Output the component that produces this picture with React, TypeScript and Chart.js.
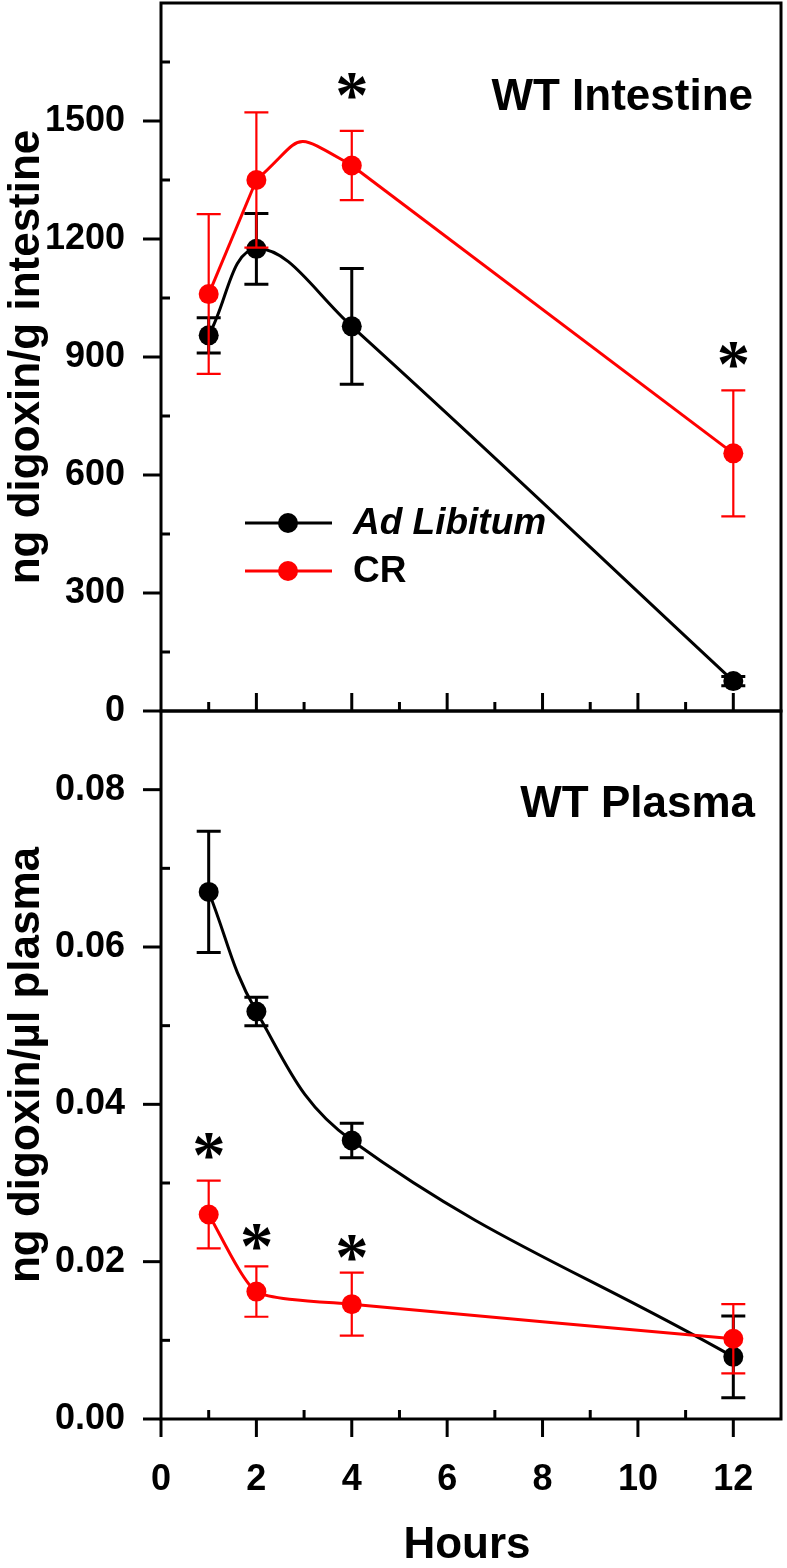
import React, { useEffect, useRef } from "react";
import { Chart, registerables } from "chart.js";

Chart.register(...registerables);

// ---------- data ----------
const hours = [1, 2, 4, 12];

const intestineAdLib = [955, 1175, 978, 76];
const intestineAdLibErr = [45, 90, 147, 12];
const intestineCR = [1060, 1350, 1387, 655];
const intestineCRErr = [203, 172, 88, 160];

const plasmaAdLib = [0.067, 0.0518, 0.0354, 0.0079];
const plasmaAdLibErr = [0.0077, 0.0018, 0.0022, 0.0052];
const plasmaCR = [0.026, 0.0162, 0.0146, 0.0102];
const plasmaCRErr = [0.0043, 0.0032, 0.004, 0.0044];

// significance markers (*): hour and level at which they sit
const intestineStarHours = [4, 12];
const intestineStarLevels = [1588, 906];
const plasmaStarHours = [1, 2, 4];
const plasmaStarLevels = [0.0347, 0.0231, 0.0218];

const xMajorTicks = [0, 2, 4, 6, 8, 10, 12];
const xMinorTicks = [1, 3, 5, 7, 9, 11];
const intestineMajorTicks = [0, 300, 600, 900, 1200, 1500];
const intestineMinorTicks = [150, 450, 750, 1050, 1350, 1650];
const plasmaMajorTicks = [0, 0.02, 0.04, 0.06, 0.08];
const plasmaMinorTicks = [0.01, 0.03, 0.05, 0.07];

const seriesLabels = ["Ad Libitum", "CR"];
const panelTitles = ["WT Intestine", "WT Plasma"];
const yTitles = ["ng digoxin/g intestine", "ng digoxin/\u00b5l plasma"];
const xTitle = "Hours";

// ---------- style ----------
const SANS = '"Liberation Sans", Arial, sans-serif';
const BLACK = "#000000";
const RED = "#ff0000";
const HIDDEN = "rgba(0,0,0,0)";

const pts = (ys: number[]) => hours.map((h, i) => ({ x: h, y: ys[i] }));

const framePlugin = {
  id: "frame",
  beforeDatasetsDraw(chart: any) {
    const { ctx, chartArea, scales } = chart;
    const x = scales.x;
    const yI = scales.yI;
    const yP = scales.yP;
    const L = chartArea.left;
    const R = chartArea.right;
    const MAJ = 18;
    const MIN = 9;
    ctx.save();
    ctx.strokeStyle = BLACK;
    ctx.lineWidth = 3;
    const line = (x1: number, y1: number, x2: number, y2: number) => {
      ctx.beginPath();
      ctx.moveTo(x1, y1);
      ctx.lineTo(x2, y2);
      ctx.stroke();
    };
    [yI, yP].forEach((s: any) => ctx.strokeRect(L, s.top, R - L, s.bottom - s.top));
    intestineMajorTicks.forEach((v) => {
      const p = yI.getPixelForValue(v);
      line(L - MAJ, p, L, p);
    });
    intestineMinorTicks.forEach((v) => {
      const p = yI.getPixelForValue(v);
      line(L, p, L + MIN, p);
    });
    plasmaMajorTicks.forEach((v) => {
      const p = yP.getPixelForValue(v);
      line(L - MAJ, p, L, p);
    });
    plasmaMinorTicks.forEach((v) => {
      const p = yP.getPixelForValue(v);
      line(L, p, L + MIN, p);
    });
    xMajorTicks.forEach((v) => {
      const p = x.getPixelForValue(v);
      if (v > 0) line(p, yI.bottom, p, yI.bottom - MAJ);
      line(p, yP.bottom, p, yP.bottom + MAJ);
    });
    xMinorTicks.forEach((v) => {
      const p = x.getPixelForValue(v);
      line(p, yI.bottom, p, yI.bottom - MIN);
      line(p, yP.bottom, p, yP.bottom - MIN);
    });

    // tick labels
    ctx.fillStyle = BLACK;
    ctx.font = `bold 36px ${SANS}`;
    ctx.textAlign = "right";
    ctx.textBaseline = "middle";
    intestineMajorTicks.forEach((v) => {
      ctx.fillText(String(v), L - 36, yI.getPixelForValue(v));
    });
    plasmaMajorTicks.forEach((v) => {
      ctx.fillText(v.toFixed(2), L - 36, yP.getPixelForValue(v));
    });
    ctx.textAlign = "center";
    xMajorTicks.forEach((v) => {
      ctx.fillText(String(v), x.getPixelForValue(v), yP.bottom + 61);
    });

    // axis titles
    ctx.font = `bold 44px ${SANS}`;
    ctx.textAlign = "center";
    ctx.textBaseline = "middle";
    ctx.fillText(xTitle, (L + R) / 2 - 4, yP.bottom + 127);
    [yI, yP].forEach((s: any, i: number) => {
      ctx.save();
      ctx.translate(27, (s.top + s.bottom) / 2);
      ctx.rotate(-Math.PI / 2);
      ctx.fillText(yTitles[i], 0, 0);
      ctx.restore();
    });
    ctx.restore();
  },
};

const errorBarPlugin = {
  id: "errorBars",
  beforeDatasetDraw(chart: any, args: any) {
    const ds = chart.data.datasets[args.index];
    if (!ds.errors) return;
    const yScale = chart.scales[ds.yAxisID];
    const ctx = chart.ctx;
    const CAP = 12;
    ctx.save();
    ctx.strokeStyle = ds.borderColor;
    ctx.lineWidth = ds.errorWidth;
    args.meta.data.forEach((pt: any, i: number) => {
      const v = ds.data[i].y;
      const e = ds.errors[i];
      const yt = yScale.getPixelForValue(v + e);
      const yb = yScale.getPixelForValue(v - e);
      ctx.beginPath();
      ctx.moveTo(pt.x, yt);
      ctx.lineTo(pt.x, yb);
      ctx.moveTo(pt.x - CAP, yt);
      ctx.lineTo(pt.x + CAP, yt);
      ctx.moveTo(pt.x - CAP, yb);
      ctx.lineTo(pt.x + CAP, yb);
      ctx.stroke();
    });
    ctx.restore();
  },
};

const annotationPlugin = {
  id: "annotations",
  afterDraw(chart: any) {
    const { ctx, chartArea, scales } = chart;
    const x = scales.x;
    const yI = scales.yI;
    const yP = scales.yP;
    ctx.save();
    // asterisks
    ctx.fillStyle = BLACK;
    ctx.font = 'bold 100px "Liberation Serif", serif';
    const m100 = ctx.measureText("*");
    const w100 = m100.actualBoundingBoxLeft + m100.actualBoundingBoxRight;
    const fs = (100 * 28) / w100;
    ctx.font = `bold ${fs}px "Liberation Serif", serif`;
    const m = ctx.measureText("*");
    const drawStar = (px: number, py: number) => {
      const bx = px - (m.actualBoundingBoxRight - m.actualBoundingBoxLeft) / 2;
      const by = py + (m.actualBoundingBoxAscent - m.actualBoundingBoxDescent) / 2;
      ctx.textAlign = "left";
      ctx.textBaseline = "alphabetic";
      ctx.fillText("*", bx, by);
    };
    intestineStarHours.forEach((h, i) =>
      drawStar(x.getPixelForValue(h), yI.getPixelForValue(intestineStarLevels[i]))
    );
    plasmaStarHours.forEach((h, i) =>
      drawStar(x.getPixelForValue(h), yP.getPixelForValue(plasmaStarLevels[i]))
    );

    // panel titles
    ctx.font = `bold 44px ${SANS}`;
    ctx.textAlign = "right";
    ctx.textBaseline = "alphabetic";
    ctx.fillText(panelTitles[0], chartArea.right - 28, yI.top + 107);
    ctx.fillText(panelTitles[1], chartArea.right - 26, yP.top + 106);

    // legend
    const L = chartArea.left;
    const rows = [
      { y: yI.top + 520, color: BLACK, label: seriesLabels[0], italic: true },
      { y: yI.top + 568, color: RED, label: seriesLabels[1], italic: false },
    ];
    rows.forEach((r) => {
      ctx.strokeStyle = r.color;
      ctx.fillStyle = r.color;
      ctx.lineWidth = 3;
      ctx.beginPath();
      ctx.moveTo(L + 84, r.y);
      ctx.lineTo(L + 171, r.y);
      ctx.stroke();
      ctx.beginPath();
      ctx.arc(L + 127, r.y, 10, 0, Math.PI * 2);
      ctx.fill();
      ctx.fillStyle = BLACK;
      ctx.font = `${r.italic ? "italic " : ""}bold 37px ${SANS}`;
      ctx.textAlign = "left";
      ctx.textBaseline = "middle";
      ctx.fillText(r.label, L + 192, r.y + 1);
    });
    ctx.restore();
  },
};

const lineStyle = (color: string) => ({
  borderColor: color,
  backgroundColor: color,
  borderWidth: 3,
  pointRadius: 10,
  pointBackgroundColor: color,
  pointBorderWidth: 0,
  pointHoverRadius: 10,
  fill: false,
});

const fixBox = (w: number | null, h: number | null) => (s: any) => {
  if (w !== null) s.width = w;
  if (h !== null) s.height = h;
  s.paddingTop = 0;
  s.paddingBottom = 0;
  s.paddingLeft = 0;
  s.paddingRight = 0;
};

const quietAxis = {
  grid: { display: false, drawTicks: false },
  border: { display: false },
  ticks: { display: false },
  title: { display: false },
};

export default function App() {
  const ref = useRef<HTMLCanvasElement>(null);

  useEffect(() => {
    document.body.style.margin = "0";
    const canvas = ref.current;
    if (!canvas) return;
    const chart = new Chart(canvas, {
      type: "line",
      data: {
        datasets: [
          {
            label: seriesLabels[1],
            data: pts(intestineCR),
            yAxisID: "yI",
            ...lineStyle(RED),
            tension: 0.8,
            errors: intestineCRErr,
            errorWidth: 2.2,
            order: 1,
            segment: {
              borderColor: (c: any) => (c.p0DataIndex === 1 ? undefined : HIDDEN),
            },
          } as any,
          {
            label: seriesLabels[1] + " (straight part)",
            data: pts(intestineCR),
            yAxisID: "yI",
            ...lineStyle(RED),
            pointRadius: 0,
            pointHoverRadius: 0,
            tension: 0,
            order: 2,
            segment: {
              borderColor: (c: any) => (c.p0DataIndex === 1 ? HIDDEN : undefined),
            },
          } as any,
          {
            label: seriesLabels[0],
            data: pts(intestineAdLib),
            yAxisID: "yI",
            ...lineStyle(BLACK),
            tension: 0.4,
            errors: intestineAdLibErr,
            errorWidth: 3,
            order: 3,
          } as any,
          {
            label: seriesLabels[1],
            data: pts(plasmaCR),
            yAxisID: "yP",
            ...lineStyle(RED),
            tension: 0.2,
            errors: plasmaCRErr,
            errorWidth: 2.2,
            order: 1,
          } as any,
          {
            label: seriesLabels[0],
            data: pts(plasmaAdLib),
            yAxisID: "yP",
            ...lineStyle(BLACK),
            tension: 0.4,
            errors: plasmaAdLibErr,
            errorWidth: 3,
            order: 3,
          } as any,
        ],
      },
      options: {
        responsive: false,
        animation: false,
        devicePixelRatio: 1,
        events: [],
        layout: { autoPadding: false, padding: { top: 3, right: 6, left: 0, bottom: 0 } },
        plugins: { legend: { display: false }, tooltip: { enabled: false } },
        scales: {
          x: {
            type: "linear",
            min: 0,
            max: 13,
            afterFit: fixBox(null, 149),
            ...quietAxis,
          },
          yP: {
            type: "linear",
            position: "left",
            stack: "panels",
            stackWeight: 1,
            min: 0,
            max: 0.09,
            afterFit: fixBox(161, null),
            ...quietAxis,
          },
          yI: {
            type: "linear",
            position: "left",
            stack: "panels",
            stackWeight: 1,
            min: 0,
            max: 1800,
            afterFit: fixBox(161, null),
            ...quietAxis,
          },
        },
      } as any,
      plugins: [framePlugin, errorBarPlugin, annotationPlugin],
    });
    return () => chart.destroy();
  }, []);

  return (
    <canvas
      ref={ref}
      width={787}
      height={1568}
      style={{ display: "block", width: "787px", height: "1568px" }}
    />
  );
}
